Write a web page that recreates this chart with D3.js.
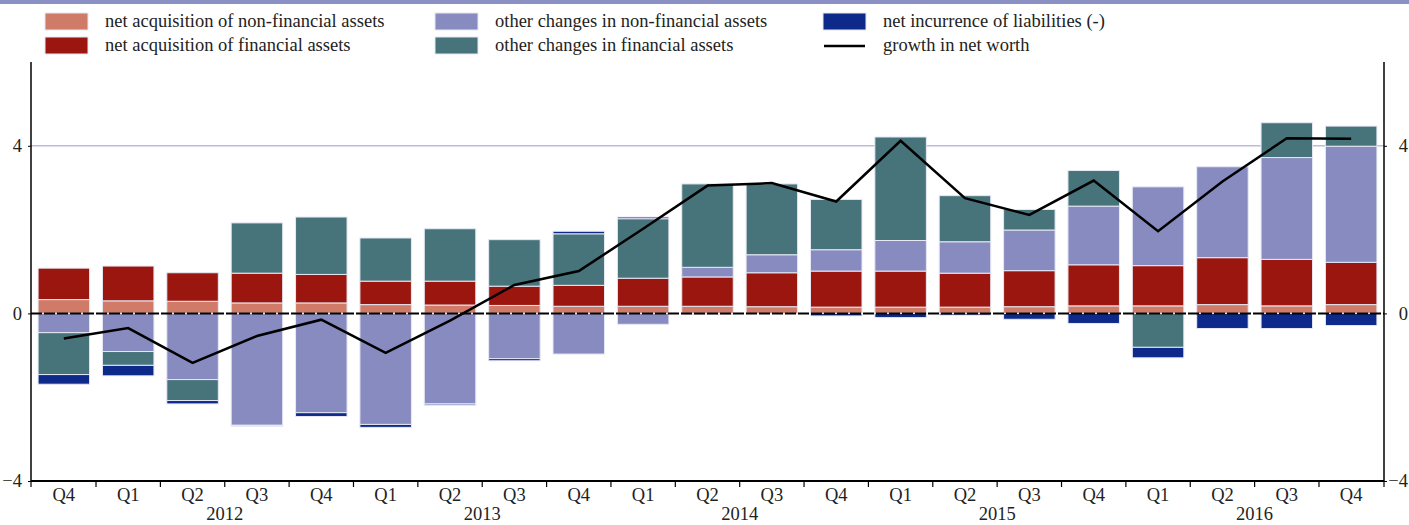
<!DOCTYPE html>
<html><head><meta charset="utf-8">
<script src="https://cdn.jsdelivr.net/npm/d3@7"></script>
<style>
html,body{margin:0;padding:0;background:#fff;}
svg{display:block;}
svg text{font-family:"Liberation Serif","Times New Roman","DejaVu Serif",serif;}
</style></head>
<body>
<svg id="chart" width="1409" height="525"></svg>
<script>
const quarters = ["Q4","Q1","Q2","Q3","Q4","Q1","Q2","Q3","Q4","Q1","Q2","Q3","Q4","Q1","Q2","Q3","Q4","Q1","Q2","Q3","Q4"];
const years = ["2012","2013","2014","2015","2016"];
const categories = quarters.map((q,i)=>i+":"+q);

const nonFinAcq   = [0.33,0.30,0.29,0.25,0.25,0.21,0.20,0.19,0.17,0.17,0.17,0.16,0.15,0.15,0.15,0.16,0.18,0.18,0.21,0.18,0.21];
const finAcq      = [0.75,0.83,0.68,0.71,0.68,0.56,0.57,0.46,0.50,0.67,0.70,0.81,0.86,0.86,0.81,0.86,0.98,0.96,1.12,1.11,1.01];
const otherNonFin = [-0.46,-0.91,-1.58,-2.67,-2.37,-2.65,-2.16,-1.08,-0.97,-0.26,0.23,0.43,0.51,0.73,0.75,0.97,1.40,1.88,2.17,2.43,2.77];
const otherFin    = [-1.00,-0.33,-0.50,1.20,1.37,1.03,1.25,1.11,1.23,1.42,1.99,1.69,1.20,2.47,1.10,0.49,0.85,-0.81,0.00,0.83,0.48];
const liabilities = [-0.23,-0.25,-0.08,-0.02,-0.09,-0.07,-0.03,-0.05,0.06,0.04,-0.02,0.00,-0.06,-0.10,-0.04,-0.14,-0.24,-0.25,-0.36,-0.36,-0.29];
const netWorth    = [-0.60,-0.35,-1.18,-0.54,-0.15,-0.94,-0.17,0.68,1.01,2.02,3.05,3.11,2.67,4.12,2.75,2.35,3.17,1.96,3.15,4.18,4.17];
const yTicks = [-4,0,4];

const seriesNames = ["net acquisition of non-financial assets","net acquisition of financial assets","other changes in non-financial assets","other changes in financial assets","net incurrence of liabilities (-)"];
const seriesColors = ["#cf7b68","#9c1610","#888bbf","#47737b","#0d2a8a"];
const seriesData = [nonFinAcq, finAcq, otherNonFin, otherFin, liabilities];

const FONT = "Liberation Serif, Times New Roman, DejaVu Serif, serif";
const FS = 18.5;
const W = 1409, H = 525;
const m = {left:31, right:25, top:62, bottom:44};
const svg = d3.select("#chart");

// top band
svg.append("rect").attr("x",0).attr("y",0).attr("width",W).attr("height",4).attr("fill","#8a8fc4");

const x = d3.scaleBand().domain(categories).range([m.left, W-m.right]).paddingInner(0.2).paddingOuter(0.11);
const y = d3.scaleLinear().domain([-4,6]).range([H-m.bottom, m.top]);

// gridline at 4
svg.append("line").attr("x1",m.left).attr("x2",W-m.right).attr("y1",y(4)).attr("y2",y(4))
  .attr("stroke","#b9bcdb").attr("stroke-width",1.5);

// stacked data
const table = categories.map((c,i)=>{ const o={cat:c}; seriesData.forEach((s,k)=>o["s"+k]=s[i]); return o;});
const keys = seriesData.map((s,k)=>"s"+k);
const stacked = d3.stack().keys(keys).offset(d3.stackOffsetDiverging)(table);

svg.append("g").selectAll("g").data(stacked).join("g")
  .attr("fill",(d,i)=>seriesColors[i])
  .selectAll("rect").data(d=>d).join("rect")
  .attr("x",d=>x(d.data.cat))
  .attr("width",x.bandwidth())
  .attr("y",d=>y(Math.max(d[0],d[1])))
  .attr("height",d=>Math.abs(y(d[0])-y(d[1])))
  .attr("stroke","#e6e8f3").attr("stroke-width",1);

// zero line
svg.append("line").attr("x1",m.left).attr("x2",W-m.right).attr("y1",y(0)).attr("y2",y(0))
  .attr("stroke","#000").attr("stroke-width",2).attr("stroke-dasharray","11,2");

// net worth line
const line = d3.line().x((d,i)=>x(categories[i])+x.bandwidth()/2).y(d=>y(d));
svg.append("path").datum(netWorth).attr("d",line).attr("fill","none")
  .attr("stroke","#000").attr("stroke-width",2.5).attr("stroke-linejoin","miter");

// axes
const yLeft = d3.axisLeft(y).tickValues(yTicks).tickSize(3).tickFormat(d3.format("d"));
const gl = svg.append("g").attr("transform",`translate(${m.left},0)`).call(yLeft);
const yRight = d3.axisRight(y).tickValues(yTicks).tickSize(3).tickFormat(d3.format("d"));
const gr = svg.append("g").attr("transform",`translate(${W-m.right},0)`).call(yRight);
[gl,gr].forEach(g=>{
  g.attr("font-family",FONT);
  g.select(".domain").attr("stroke","#000").attr("stroke-width",1.5).attr("d",`M0,${y(6)}V${y(-4)}`);
  g.selectAll(".tick line").attr("stroke","#000");
  g.selectAll(".tick text").attr("font-size",FS).attr("fill","#222").attr("font-family",FONT);
});
gl.selectAll(".tick text").attr("x",-9);
gr.selectAll(".tick text").attr("x",W-1-(W-m.right)).attr("text-anchor","end");

// bottom axis
const gb = svg.append("g").attr("font-family",FONT);
gb.append("line").attr("x1",m.left).attr("x2",W-m.right).attr("y1",y(-4)).attr("y2",y(-4))
  .attr("stroke","#000").attr("stroke-width",2);
const step = x.step();
const bounds = [m.left].concat(categories.slice(1).map(c=>x(c)-step*0.1)).concat([W-m.right]);
gb.selectAll("line.tk").data(bounds).join("line").attr("class","tk")
  .attr("x1",d=>d).attr("x2",d=>d).attr("y1",y(-4)).attr("y2",y(-4)+6)
  .attr("stroke","#000").attr("stroke-width",1.2);
gb.selectAll("text.q").data(categories).join("text").attr("class","q")
  .attr("x",d=>x(d)+x.bandwidth()/2).attr("y",y(-4)+20)
  .attr("text-anchor","middle").attr("font-size",FS).attr("fill","#222").attr("font-family",FONT)
  .text((d,i)=>quarters[i]);
gb.selectAll("text.yr").data(years).join("text").attr("class","yr")
  .attr("x",(d,j)=>{ const a=categories[1+4*j], b=categories[4+4*j]; return (x(a)+x(b)+x.bandwidth())/2; })
  .attr("y",y(-4)+39).attr("text-anchor","middle").attr("font-size",FS).attr("fill","#222").attr("font-family",FONT)
  .text(d=>d);

// legend
const legendItems = [
  {name:seriesNames[0], color:seriesColors[0], col:0, row:0},
  {name:seriesNames[1], color:seriesColors[1], col:0, row:1},
  {name:seriesNames[2], color:seriesColors[2], col:1, row:0},
  {name:seriesNames[3], color:seriesColors[3], col:1, row:1},
  {name:seriesNames[4], color:seriesColors[4], col:2, row:0},
  {name:"growth in net worth", color:"#000", col:2, row:1, line:true}
];
const colX = [45, 435, 823];
const lg = svg.append("g").attr("font-family",FONT);
legendItems.forEach(it=>{
  const gx = colX[it.col], gy = 13 + it.row*24;
  if(it.line){
    lg.append("line").attr("x1",gx+1).attr("x2",gx+42).attr("y1",gy+9).attr("y2",gy+9)
      .attr("stroke","#000").attr("stroke-width",2.5);
  } else {
    lg.append("rect").attr("x",gx).attr("y",gy).attr("width",43).attr("height",17)
      .attr("fill",it.color).attr("stroke","#e6e8f3").attr("stroke-width",1);
  }
  lg.append("text").attr("x",gx+60).attr("y",gy+14).attr("font-size",FS).attr("fill","#222")
    .attr("font-family",FONT).text(it.name);
});
</script>
</body></html>
